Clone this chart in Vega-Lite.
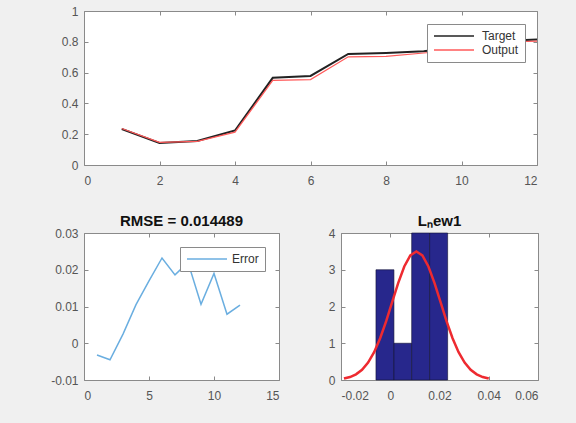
{
  "$schema": "https://vega.github.io/schema/vega-lite/v6.json",
  "background": "#f0f0f0",
  "padding": {"left": 50, "top": 4, "right": 39, "bottom": 24},
  "bounds": "flush",
  "spacing": 68,
  "resolve": {"scale": {"color": "independent"}, "legend": {"color": "independent"}},
  "datasets": {
    "series": [
      {"x": 1, "series": "Target", "value": 0.234},
      {"x": 2, "series": "Target", "value": 0.143},
      {"x": 3, "series": "Target", "value": 0.156},
      {"x": 4, "series": "Target", "value": 0.224},
      {"x": 5, "series": "Target", "value": 0.566},
      {"x": 6, "series": "Target", "value": 0.578},
      {"x": 7, "series": "Target", "value": 0.721},
      {"x": 8, "series": "Target", "value": 0.727},
      {"x": 9, "series": "Target", "value": 0.738},
      {"x": 10, "series": "Target", "value": 0.77},
      {"x": 11, "series": "Target", "value": 0.805},
      {"x": 12, "series": "Target", "value": 0.815},
      {"x": 1, "series": "Output", "value": 0.2372},
      {"x": 2, "series": "Output", "value": 0.1475},
      {"x": 3, "series": "Output", "value": 0.1535},
      {"x": 4, "series": "Output", "value": 0.2135},
      {"x": 5, "series": "Output", "value": 0.549},
      {"x": 6, "series": "Output", "value": 0.5548},
      {"x": 7, "series": "Output", "value": 0.7024},
      {"x": 8, "series": "Output", "value": 0.705},
      {"x": 9, "series": "Output", "value": 0.7274},
      {"x": 10, "series": "Output", "value": 0.751},
      {"x": 11, "series": "Output", "value": 0.7971},
      {"x": 12, "series": "Output", "value": 0.8046}
    ],
    "err": [
      {"x": 1, "series": "Error", "value": -0.0032},
      {"x": 2, "series": "Error", "value": -0.0045},
      {"x": 3, "series": "Error", "value": 0.0025},
      {"x": 4, "series": "Error", "value": 0.0105},
      {"x": 5, "series": "Error", "value": 0.017},
      {"x": 6, "series": "Error", "value": 0.0232},
      {"x": 7, "series": "Error", "value": 0.0186},
      {"x": 8, "series": "Error", "value": 0.022},
      {"x": 9, "series": "Error", "value": 0.0106},
      {"x": 10, "series": "Error", "value": 0.019},
      {"x": 11, "series": "Error", "value": 0.0079},
      {"x": 12, "series": "Error", "value": 0.0104}
    ],
    "hist": [
      {"x0": -0.0058, "x1": 0.0015, "count": 3},
      {"x0": 0.0015, "x1": 0.0087, "count": 1},
      {"x0": 0.0087, "x1": 0.016, "count": 4},
      {"x0": 0.016, "x1": 0.0233, "count": 4}
    ],
    "fit": [
      {"x": -0.0188, "y": 0.039},
      {"x": -0.01635, "y": 0.08},
      {"x": -0.0139, "y": 0.154},
      {"x": -0.01145, "y": 0.279},
      {"x": -0.009, "y": 0.474},
      {"x": -0.00655, "y": 0.757},
      {"x": -0.0041, "y": 1.136},
      {"x": -0.00165, "y": 1.602},
      {"x": 0.0008, "y": 2.123},
      {"x": 0.00325, "y": 2.642},
      {"x": 0.0057, "y": 3.089},
      {"x": 0.00815, "y": 3.392},
      {"x": 0.0106, "y": 3.5},
      {"x": 0.01305, "y": 3.392},
      {"x": 0.0155, "y": 3.089},
      {"x": 0.01795, "y": 2.642},
      {"x": 0.0204, "y": 2.123},
      {"x": 0.02285, "y": 1.602},
      {"x": 0.0253, "y": 1.136},
      {"x": 0.02775, "y": 0.757},
      {"x": 0.0302, "y": 0.474},
      {"x": 0.03265, "y": 0.279},
      {"x": 0.0351, "y": 0.154},
      {"x": 0.03755, "y": 0.08},
      {"x": 0.04, "y": 0.039}
    ]
  },
  "config": {
    "font": "Liberation Sans",
    "view": {"stroke": "#8a8a8a", "fill": "white", "strokeWidth": 1},
    "axis": {
      "grid": false,
      "domain": false,
      "ticks": true,
      "tickColor": "#8a8a8a",
      "tickSize": -4,
      "labelColor": "#555555",
      "labelFont": "Liberation Sans",
      "labelFontSize": 12,
      "labelOverlap": false,
      "labelBound": false
    },
    "axisX": {"labelPadding": 14},
    "axisY": {"labelPadding": 10},
    "title": {"font": "Liberation Sans", "fontSize": 15, "fontWeight": "bold", "color": "#111111", "offset": -2},
    "legend": {
      "orient": "none",
      "title": null,
      "strokeColor": "#8a8a8a",
      "fillColor": "white",
      "padding": 6,
      "symbolType": "M-1,0H7",
      "symbolSize": 100,
      "symbolStrokeWidth": 1.5,
      "labelOffset": 37,
      "labelFont": "Liberation Sans",
      "labelFontSize": 12,
      "labelColor": "#333333",
      "rowPadding": 2
    }
  },
  "vconcat": [
    {
      "width": 453,
      "height": 154,
      "data": {"name": "series"},
      "resolve": {"axis": {"x": "independent", "y": "independent"}},
      "encoding": {
        "x": {"field": "x", "type": "quantitative", "title": null,
              "scale": {"domain": [0, 12], "nice": false},
              "axis": {"values": [0, 2, 4, 6, 8, 10, 12]}},
        "y": {"field": "value", "type": "quantitative", "title": null,
              "scale": {"domain": [0, 1], "nice": false},
              "axis": {"values": [0, 0.2, 0.4, 0.6, 0.8, 1], "format": "~g"}}
      },
      "layer": [
        {"transform": [{"filter": "datum.series === 'Target'"}], "mark": {"type": "line", "strokeWidth": 2},
         "encoding": {"color": {"field": "series", "type": "nominal",
                  "scale": {"domain": ["Target", "Output"], "range": ["#222222", "#ff5a5a"]},
                  "legend": {"legendX": 343, "legendY": 13}}}},
        {"transform": [{"filter": "datum.series === 'Output'"}], "mark": {"type": "line", "strokeWidth": 1.2},
         "encoding": {
           "color": {"field": "series", "type": "nominal"},
           "x": {"field": "x", "type": "quantitative", "title": null, "axis": {"orient": "top", "labels": false, "values": [0, 2, 4, 6, 8, 10, 12]}},
           "y": {"field": "value", "type": "quantitative", "title": null, "axis": {"orient": "right", "labels": false, "values": [0, 0.2, 0.4, 0.6, 0.8, 1]}}
         }}
      ]
    },
    {
      "bounds": "flush",
      "spacing": 62,
      "hconcat": [
        {
          "width": 195,
          "height": 147,
          "title": "RMSE = 0.014489",
          "data": {"name": "err"},
          "resolve": {"axis": {"x": "independent", "y": "independent"}},
          "encoding": {
            "x": {"field": "x", "type": "quantitative", "title": null,
                  "scale": {"domain": [0, 15], "nice": false},
                  "axis": {"values": [0, 5, 10, 15]}},
            "y": {"field": "value", "type": "quantitative", "title": null,
                  "scale": {"domain": [-0.01, 0.03], "nice": false},
                  "axis": {"values": [-0.01, 0, 0.01, 0.02, 0.03], "format": "~g", "labelExpr": "replace(datum.label, '−', '-')"}}
          },
          "layer": [
            {"mark": {"type": "line", "strokeWidth": 1.5},
             "encoding": {"color": {"field": "series", "type": "nominal",
                      "scale": {"range": ["#6aaee0"]},
                      "legend": {"legendX": 96, "legendY": 14, "labelOffset": 34}}}},
            {"mark": {"type": "point", "opacity": 0},
             "encoding": {
               "x": {"field": "x", "type": "quantitative", "title": null, "axis": {"orient": "top", "labels": false, "values": [0, 5, 10, 15]}},
               "y": {"field": "value", "type": "quantitative", "title": null, "axis": {"orient": "right", "labels": false, "values": [-0.01, 0, 0.01, 0.02, 0.03]}}
             }}
          ]
        },
        {
          "width": 197,
          "height": 147,
          "title": "Lₙew1",
          "resolve": {"axis": {"x": "independent", "y": "independent"}},
          "layer": [
            {
              "data": {"name": "hist"},
              "mark": {"type": "rect", "color": "#27278c", "stroke": "#111133", "strokeWidth": 0.6},
              "encoding": {
                "x": {"field": "x0", "type": "quantitative", "title": null,
                      "scale": {"domain": [-0.02, 0.06], "nice": false},
                      "axis": {"values": [-0.02, 0, 0.02, 0.04, 0.06], "format": "~g", "labelExpr": "replace(datum.label, '−', '-')"}},
                "x2": {"field": "x1"},
                "y": {"field": "count", "type": "quantitative", "title": null,
                      "scale": {"domain": [0, 4], "nice": false},
                      "axis": {"values": [0, 1, 2, 3, 4]}},
                "y2": {"datum": 0}
              }
            },
            {
              "data": {"name": "fit"},
              "mark": {"type": "line", "color": "#ee2a30", "strokeWidth": 2.5},
              "encoding": {
                "x": {"field": "x", "type": "quantitative", "axis": {"orient": "top", "labels": false, "values": [-0.02, 0, 0.02, 0.04, 0.06], "title": null}},
                "y": {"field": "y", "type": "quantitative", "axis": {"orient": "right", "labels": false, "values": [0, 1, 2, 3, 4], "title": null}}
              }
            }
          ]
        }
      ]
    }
  ]
}
